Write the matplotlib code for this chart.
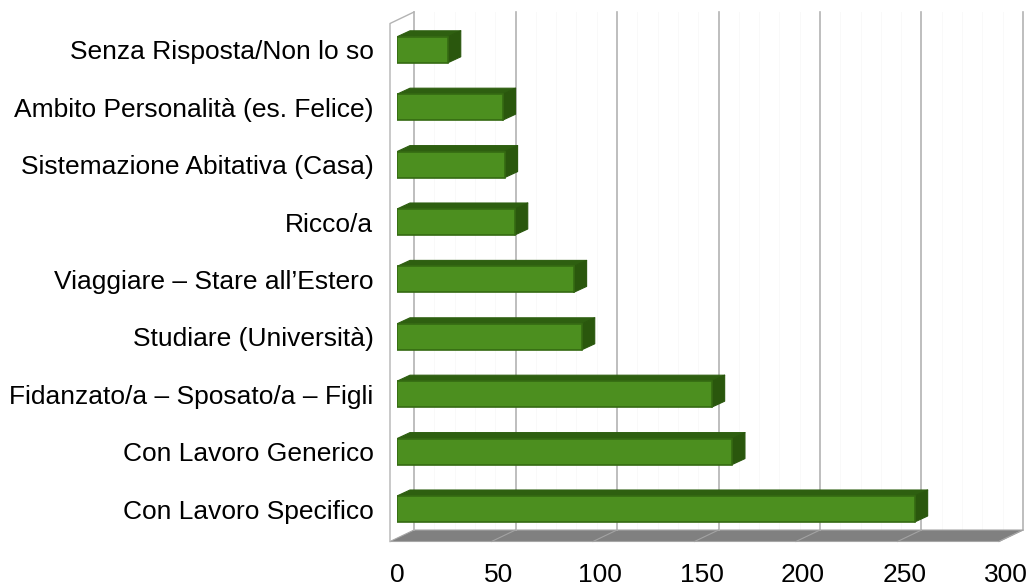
import matplotlib
matplotlib.use("Agg")
import matplotlib.pyplot as plt
from matplotlib.patches import Polygon

# categories, bottom to top
categories = [
    "Con Lavoro Specifico",
    "Con Lavoro Generico",
    "Fidanzato/a \u2013 Sposato/a \u2013 Figli",
    "Studiare (Universit\u00e0)",
    "Viaggiare \u2013 Stare all\u2019Estero",
    "Ricco/a",
    "Sistemazione Abitativa (Casa)",
    "Ambito Personalit\u00e0 (es. Felice)",
    "Senza Risposta/Non lo so",
]
values = [255, 165, 155, 91, 87, 58, 53, 52, 25]
x_ticks = [0, 50, 100, 150, 200, 250, 300]

plt.rcParams['font.family'] = ['Liberation Sans', 'DejaVu Sans']

W, H = 1030, 587
fig = plt.figure(figsize=(W / 100, H / 100), dpi=100)

# axes = plane of the bars' front faces
px_x = 2.03    # pixels per value unit
px_y = 57.4    # pixels per category step
left_px, right_px = 397, 397 + 300 * px_x
top_px, bot_px = 20, 538
ax = fig.add_axes([left_px / W, (H - bot_px) / H,
                   (right_px - left_px) / W, (bot_px - top_px) / H])
y0 = -(bot_px - 509) / px_y
y1 = y0 + (bot_px - top_px) / px_y
ax.set_xlim(0, 300)
ax.set_ylim(y0, y1)

def off(dx_px, dy_px):
    return dx_px / px_x, dy_px / px_y

# depth offsets (pixels) of wall front/back and of bar back
fx, fy = off(-7, -3.5)
bx, by = off(17, 8)
dx, dy = off(13, 6)

grid_c = '#b3b3b3'

# very faint minor grid on back wall
for v in range(10, 301, 10):
    if v % 50:
        ax.plot([v + bx, v + bx], [y0 + by, y1 + by], color='#f8f8f8',
                lw=0.6, clip_on=False, zorder=0)

# floor
floor = Polygon([(0 + fx, y0 + fy), (300 + fx, y0 + fy),
                 (300 + bx, y0 + by), (0 + bx, y0 + by)],
                closed=True, facecolor='#808080', edgecolor='#a6a6a6',
                lw=0.8, clip_on=False, zorder=1)
ax.add_patch(floor)
for v in x_ticks[1:]:
    ax.plot([v + fx, v + bx], [y0 + fy, y0 + by], color='#a3a3a3',
            lw=0.8, clip_on=False, zorder=1.5)

# back wall grid lines
for v in x_ticks:
    ax.plot([v + bx, v + bx], [y0 + by, y1 + by], color=grid_c,
            lw=1.2, clip_on=False, zorder=1)

# left side wall outline
ax.plot([fx, fx, bx], [y0 + fy, y1 + fy, y1 + by], color=grid_c,
        lw=1.0, clip_on=False, zorder=1)

# bars
h = 26 / px_y
idx = list(range(len(categories)))
ax.barh(idx, values, height=h, color='#4c8f1f', edgecolor='#356a12',
        lw=1.2, zorder=3)
for i, v in zip(idx, values):
    top = Polygon([(0, i + h / 2), (v, i + h / 2),
                   (v + dx, i + h / 2 + dy), (dx, i + h / 2 + dy)],
                  closed=True, facecolor='#2e5f10', edgecolor='#2e5f10',
                  lw=0.8, joinstyle='round', zorder=2.5)
    side = Polygon([(v, i - h / 2), (v, i + h / 2),
                    (v + dx, i + h / 2 + dy), (v + dx, i - h / 2 + dy)],
                   closed=True, facecolor='#2a570d', edgecolor='#2a570d',
                   lw=0.8, joinstyle='round', zorder=2.5)
    ax.add_patch(top)
    ax.add_patch(side)

ax.set_yticks(idx)
ax.set_yticklabels(categories, fontsize=19)
ax.set_xticks(x_ticks)
ax.set_xticklabels([str(t) for t in x_ticks], fontsize=19)
ax.tick_params(axis='y', length=0, pad=17)
ax.tick_params(axis='x', length=0, pad=18)
for s in ax.spines.values():
    s.set_visible(False)
ax.set_facecolor('none')

fig.savefig('out.png', dpi=100)
